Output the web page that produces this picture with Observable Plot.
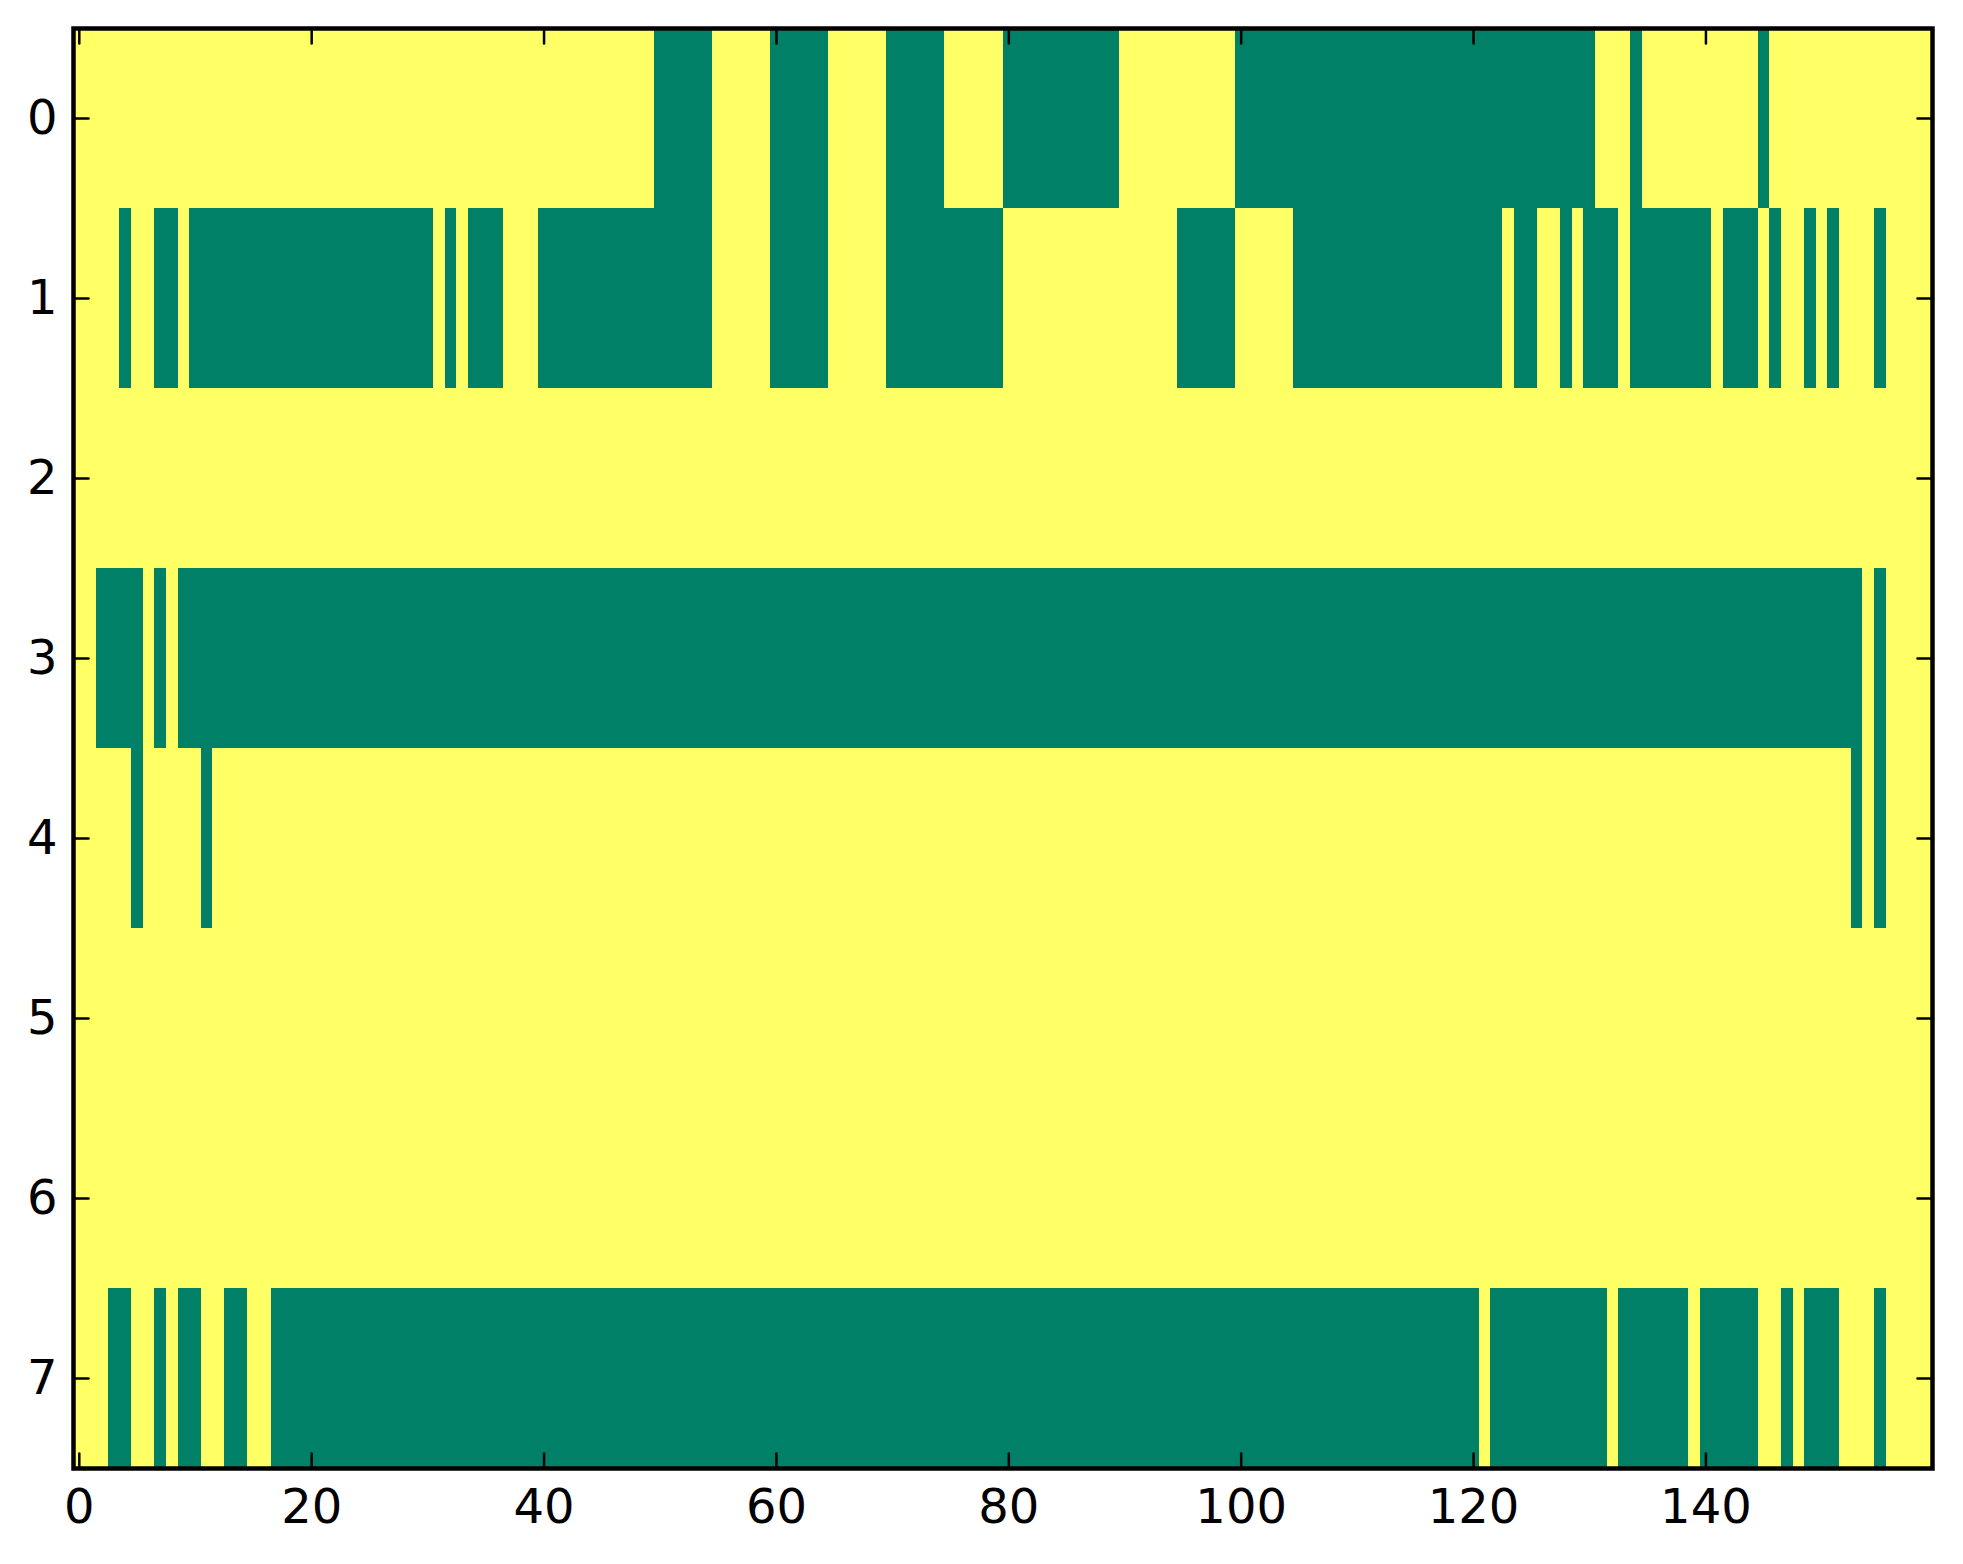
<!DOCTYPE html>
<html>
<head>
<meta charset="utf-8">
<script src="https://cdn.jsdelivr.net/npm/d3@7"></script>
<script src="https://cdn.jsdelivr.net/npm/@observablehq/plot@0.6"></script>
<style>
  html, body { margin: 0; padding: 0; background: #ffffff; }
  #chart svg { display: block; }
</style>
</head>
<body>
<div id="chart"></div>
<script>
// Binary matrix (8 rows x 160 columns), given as runs of "0"-valued (green) cells per row
const nCols = 160;
const rowLabels = [0, 1, 2, 3, 4, 5, 6, 7];
const row0Runs = [[50,54],[60,64],[70,74],[80,89],[100,130],[134,134],[145,145]];
const row1Runs = [[4,4],[7,8],[10,30],[32,32],[34,36],[40,54],[60,64],[70,79],[95,99],[105,122],[124,125],[128,128],[130,132],[134,140],[142,144],[146,146],[149,149],[151,151],[155,155]];
const row2Runs = [];
const row3Runs = [[2,5],[7,7],[9,153],[155,155]];
const row4Runs = [[5,5],[11,11],[153,153],[155,155]];
const row5Runs = [];
const row6Runs = [];
const row7Runs = [[3,4],[7,7],[9,10],[13,14],[17,120],[122,131],[133,138],[140,144],[147,147],[149,151],[155,155]];
const xTicks = [0, 20, 40, 60, 80, 100, 120, 140];
const yTicks = [0, 1, 2, 3, 4, 5, 6, 7];

const allRuns = [row0Runs, row1Runs, row2Runs, row3Runs, row4Runs, row5Runs, row6Runs, row7Runs];
const cells = [];
rowLabels.forEach((r, i) => {
  const runs = allRuns[i];
  for (let c = 0; c < nCols; ++c) {
    const inRun = runs.some(([a, b]) => c >= a && c <= b);
    cells.push({col: c, row: r, value: inRun ? 0 : 1});
  }
});

const W = 1963, H = 1564;
const tickShape = {draw(context, l) { context.moveTo(0, 0); context.lineTo(0, -l); }};
const tickLen = 15;

const chart = Plot.plot({
  width: W,
  height: H,
  marginLeft: 73,
  marginRight: 31,
  marginTop: 28,
  marginBottom: 96,
  style: {background: "#ffffff", fontFamily: "DejaVu Sans"},
  x: {domain: [-0.5, nCols - 0.5], axis: null},
  y: {domain: [-0.5, 7.5], reverse: true, axis: null},
  color: {type: "ordinal", domain: [0, 1], range: ["#008066", "#ffff66"]},
  marks: [
    Plot.rect(cells, {
      x1: d => d.col - 0.5, x2: d => d.col + 0.5,
      y1: d => d.row - 0.5, y2: d => d.row + 0.5,
      fill: "value", shapeRendering: "crispEdges"
    }),
    // inward tick marks on all four sides
    Plot.vector(xTicks, {x: d => d, y: 7.5, length: tickLen, rotate: 0, anchor: "start", shape: tickShape, stroke: "black", strokeWidth: 2.5}),
    Plot.vector(xTicks, {x: d => d, y: -0.5, length: tickLen, rotate: 180, anchor: "start", shape: tickShape, stroke: "black", strokeWidth: 2.5}),
    Plot.vector(yTicks, {x: -0.5, y: d => d, length: tickLen, rotate: 90, anchor: "start", shape: tickShape, stroke: "black", strokeWidth: 2.5}),
    Plot.vector(yTicks, {x: nCols - 0.5, y: d => d, length: tickLen, rotate: -90, anchor: "start", shape: tickShape, stroke: "black", strokeWidth: 2.5}),
    Plot.axisX({ticks: xTicks, tickSize: 0, tickPadding: 20, fontSize: 48, tickFormat: d => String(d), label: null, fill: "black"}),
    Plot.axisY({ticks: yTicks, tickSize: 0, tickPadding: 16, fontSize: 48, tickFormat: d => String(d), label: null, fill: "black"}),
    Plot.frame({stroke: "black", strokeWidth: 4.5})
  ]
});
document.getElementById("chart").appendChild(chart);
</script>
</body>
</html>
